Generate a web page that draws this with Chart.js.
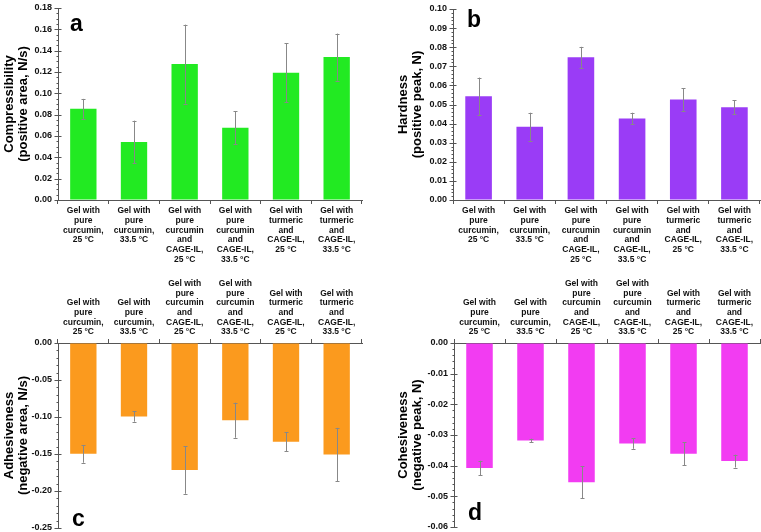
<!DOCTYPE html>
<html>
<head>
<meta charset="utf-8">
<script src="https://cdn.jsdelivr.net/npm/chart.js@4.4.1/dist/chart.umd.min.js"></script>
<style>
  body { margin: 0; background: #fff; width: 761px; height: 532px; position: relative; overflow: hidden; }
  canvas { position: absolute; }
</style>
</head>
<body>
<canvas id="chart-a" width="380" height="264" style="left:0;top:0"></canvas>
<canvas id="chart-b" width="381" height="264" style="left:380px;top:0"></canvas>
<canvas id="chart-c" width="380" height="268" style="left:0;top:264px"></canvas>
<canvas id="chart-d" width="381" height="268" style="left:380px;top:264px"></canvas>
<script>
// categories (multi-line labels)
const categories = [
  ['Gel with', 'pure', 'curcumin,', '25 °C'],
  ['Gel with', 'pure', 'curcumin,', '33.5 °C'],
  ['Gel with', 'pure', 'curcumin', 'and', 'CAGE-IL,', '25 °C'],
  ['Gel with', 'pure', 'curcumin', 'and', 'CAGE-IL,', '33.5 °C'],
  ['Gel with', 'turmeric', 'and', 'CAGE-IL,', '25 °C'],
  ['Gel with', 'turmeric', 'and', 'CAGE-IL,', '33.5 °C']
];

// a
const compressibility = [0.0855, 0.0544, 0.1274, 0.0678, 0.1194, 0.134];
const compressibilityErr = [0.0093, 0.020, 0.037, 0.0155, 0.0277, 0.022];
// b
const hardness = [0.0543, 0.0384, 0.0747, 0.0427, 0.0526, 0.0486];
const hardnessErr = [0.0098, 0.0073, 0.0055, 0.003, 0.006, 0.0037];
// c
const adhesiveness = [-0.1498, -0.0993, -0.1717, -0.1043, -0.1334, -0.1507];
const adhesivenessErr = [0.012, 0.007, 0.032, 0.0237, 0.0127, 0.036];
// d
const cohesiveness = [-0.0408, -0.0318, -0.0454, -0.0328, -0.0361, -0.0385];
const cohesivenessErr = [0.0024, 0.0006, 0.0053, 0.0017, 0.0037, 0.0021];

const FONT = '"Liberation Sans", Arial, sans-serif';
const AXIS = '#555';

// error bars + minor ticks + panel letter
const extras = {
  id: 'extras',
  afterDatasetsDraw(chart, args, opts) {
    const ctx = chart.ctx;
    const y = chart.scales.y;
    const meta = chart.getDatasetMeta(0);
    const vals = chart.data.datasets[0].data;
    ctx.save();
    ctx.strokeStyle = '#888';
    ctx.lineWidth = 1;
    meta.data.forEach((bar, i) => {
      const e = opts.errors[i];
      const x = Math.round(bar.x) + 0.5;
      const y1 = y.getPixelForValue(vals[i] + e);
      const y2 = y.getPixelForValue(vals[i] - e);
      ctx.beginPath();
      ctx.moveTo(x, y1); ctx.lineTo(x, y2);
      ctx.moveTo(x - 2, Math.round(y1) + 0.5); ctx.lineTo(x + 2, Math.round(y1) + 0.5);
      ctx.moveTo(x - 2, Math.round(y2) + 0.5); ctx.lineTo(x + 2, Math.round(y2) + 0.5);
      ctx.stroke();
    });
    // minor ticks
    ctx.strokeStyle = AXIS;
    const ax = Math.round(chart.chartArea.left) + 0.5;
    const step = opts.major / opts.sub;
    const n = Math.round((y.max - y.min) / step);
    ctx.beginPath();
    for (let k = 0; k <= n; k++) {
      const py = Math.round(y.getPixelForValue(y.min + k * step)) + 0.5;
      if (k % opts.sub === 0) {
        ctx.moveTo(ax - 4, py); ctx.lineTo(ax + 3, py);
      } else {
        ctx.moveTo(ax - 2, py); ctx.lineTo(ax, py);
      }
    }
    ctx.stroke();
    // panel letter
    ctx.fillStyle = '#000';
    ctx.font = 'bold 23px ' + FONT;
    ctx.textBaseline = 'middle';
    const ca = chart.chartArea;
    ctx.fillText(opts.letter, ca.left + opts.lx, opts.ly < 0 ? ca.bottom + opts.ly : ca.top + opts.ly);
    ctx.restore();
  }
};

function makePanel(id, values, errors, color, cfg) {
  new Chart(document.getElementById(id), {
    type: 'bar',
    data: {
      labels: categories,
      datasets: [{
        data: values,
        backgroundColor: color,
        borderWidth: 0,
        barPercentage: 0.52,
        categoryPercentage: 1
      }]
    },
    plugins: [extras],
    options: {
      responsive: false,
      animation: false,
      layout: { padding: cfg.padding },
      plugins: {
        legend: { display: false },
        tooltip: { enabled: false },
        extras: { errors: errors, major: cfg.step, sub: cfg.sub, letter: cfg.letter, lx: cfg.lx, ly: cfg.ly }
      },
      scales: {
        x: {
          position: cfg.xPos,
          offset: true,
          afterFit: (s) => { s.height = cfg.xHeight; s.paddingLeft = 0; s.paddingRight = 0; },
          border: { display: true, color: AXIS, width: 1 },
          grid: { offset: true, drawOnChartArea: false, drawTicks: true, tickLength: 4, color: AXIS },
          ticks: {
            color: '#111',
            padding: 2,
            maxRotation: 0,
            autoSkip: false,
            font: { family: FONT, size: 8.5, weight: 'bold', lineHeight: 1.14 }
          }
        },
        y: {
          min: cfg.min,
          max: cfg.max,
          afterFit: (s) => { s.width = cfg.yWidth; s.paddingTop = 0; s.paddingBottom = 0; },
          border: { display: true, color: AXIS, width: 1 },
          grid: { drawOnChartArea: false, drawTicks: false },
          title: {
            display: true,
            text: cfg.title,
            color: '#000',
            padding: { top: cfg.titlePad, bottom: 0 },
            font: { family: FONT, size: 13, weight: 'bold', lineHeight: 1.05 }
          },
          ticks: {
            stepSize: cfg.step,
            padding: 6,
            color: '#111',
            font: { family: FONT, size: 9, weight: 'bold' },
            callback: (v) => v.toFixed(2)
          }
        }
      }
    }
  });
}

makePanel('chart-a', compressibility, compressibilityErr, '#22ea22', {
  min: 0, max: 0.18, step: 0.02, sub: 4, xPos: 'bottom',
  title: ['Compressibility', '(positive area, N/s)'], titlePad: 3,
  padding: { top: 8, right: 18, left: 0, bottom: 0 }, xHeight: 64, yWidth: 58,
  letter: 'a', lx: 12, ly: 17
});
makePanel('chart-b', hardness, hardnessErr, '#9a3cf6', {
  min: 0, max: 0.10, step: 0.01, sub: 5, xPos: 'bottom',
  title: ['Hardness', '(positive peak, N)'], titlePad: 17,
  padding: { top: 9, right: 1, left: 0, bottom: 0 }, xHeight: 64, yWidth: 73,
  letter: 'b', lx: 14, ly: 12
});
makePanel('chart-c', adhesiveness, adhesivenessErr, '#fb9a1e', {
  min: -0.25, max: 0, step: 0.05, sub: 5, xPos: 'top',
  title: ['Adhesiveness', '(negative area, N/s)'], titlePad: 3,
  padding: { top: 0, right: 18, left: 0, bottom: 4 }, xHeight: 79, yWidth: 58,
  letter: 'c', lx: 14, ly: -8
});
makePanel('chart-d', cohesiveness, cohesivenessErr, '#f23cf2', {
  min: -0.06, max: 0, step: 0.01, sub: 5, xPos: 'top',
  title: ['Cohesiveness', '(negative peak, N)'], titlePad: 17,
  padding: { top: 0, right: 1, left: 0, bottom: 5 }, xHeight: 79, yWidth: 74,
  letter: 'd', lx: 14, ly: -13
});
</script>
</body>
</html>
